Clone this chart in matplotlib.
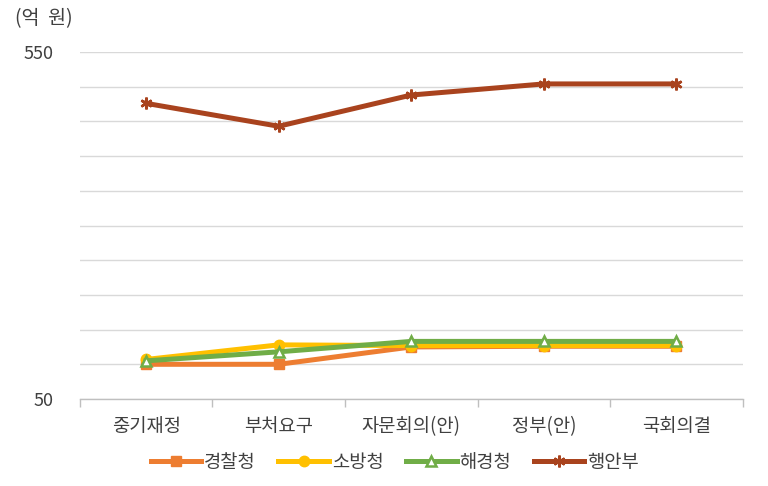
import matplotlib
matplotlib.use("Agg")
import matplotlib.pyplot as plt
from matplotlib.ticker import FixedLocator, MultipleLocator

plt.rcParams['font.family'] = ['Noto Sans CJK KR', 'DejaVu Sans']

categories = ['중기재정', '부처요구', '자문회의(안)', '정부(안)', '국회의결']
police = [100, 100, 125, 126, 126]
fire = [107, 128, 127, 127, 127]
coast = [105, 118, 133, 133, 133]
mois = [476, 443, 488, 504, 504]
series_names = ['경찰청', '소방청', '해경청', '행안부']
ytick_vals = [50, 550]

fig = plt.figure(figsize=(7.68, 4.86), dpi=100)
ax = fig.add_axes([0.104, 0.179, 0.863, 0.714])

x = list(range(len(categories)))
ax.plot(x, police, color='#ED7D31', lw=3.6, marker='s', ms=7.5, label=series_names[0], zorder=3)
ax.plot(x, fire, color='#FFC000', lw=3.6, marker='o', ms=7.5, label=series_names[1], zorder=4)
ax.plot(x, coast, color='#70AD47', lw=3.6, marker='^', ms=7.5, mfc='white', mec='#70AD47', mew=1.8,
        label=series_names[2], zorder=5)
ax.plot(x, mois, color='#A9431E', lw=3.6, marker=(6, 2, 0), ms=8.5, mew=1.8, mec='#A9431E',
        label=series_names[3], zorder=6)

ax.set_xlim(-0.5, len(categories) - 0.5)
ax.set_ylim(50, 550)
ax.yaxis.set_major_locator(FixedLocator(ytick_vals))
ax.yaxis.set_minor_locator(MultipleLocator(50))
ax.grid(axis='y', which='both', color='#D9D9D9', lw=1)
ax.set_axisbelow(True)

ax.set_xticks(x)
ax.set_xticklabels(categories, fontsize=13.5, color='#404040')
ax.set_xticks([i + 0.5 for i in range(-1, len(categories))], minor=True)
ax.tick_params(axis='x', which='major', length=0, pad=12)
ax.tick_params(axis='x', which='minor', length=6, color='#BFBFBF', width=1)
ax.tick_params(axis='y', which='both', length=0, labelsize=13, labelcolor='#404040', pad=19)

for s in ['top', 'right', 'left']:
    ax.spines[s].set_visible(False)
ax.spines['bottom'].set_color('#BFBFBF')
ax.spines['bottom'].set_linewidth(1)

fig.text(0.02, 0.962, '(억  원)', fontsize=14, color='#404040', va='center')

leg = ax.legend(loc='center', bbox_to_anchor=(0.475, -0.183), ncol=4, frameon=False,
                fontsize=13.5, handlelength=2.7, handletextpad=0.15, columnspacing=1.2)
for t in leg.get_texts():
    t.set_color('#404040')

fig.savefig('out.png', dpi=100, facecolor='white')
